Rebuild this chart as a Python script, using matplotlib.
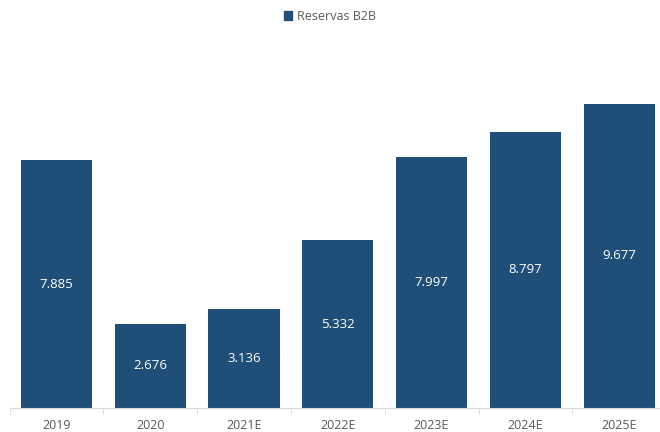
import numpy as np
import matplotlib
matplotlib.use("Agg")
import matplotlib.pyplot as plt
from matplotlib.patches import Patch

years = ["2019", "2020", "2021E", "2022E", "2023E", "2024E", "2025E"]
reservas_b2b = [7.885, 2.676, 3.136, 5.332, 7.997, 8.797, 9.677]

bar_color = "#1F4E79"
text_color = "#595959"

plt.rcParams["font.family"] = ["Open Sans", "DejaVu Sans"]

fig = plt.figure(figsize=(6.6, 4.32), dpi=100)
# axes reaches the right border, the last slot is cut a little
ax = fig.add_axes([9.5 / 660, 24 / 432, (660 - 9.5) / 660, 377 / 432])

x = np.arange(len(years))
bars = ax.bar(x, reservas_b2b, width=0.76, color=bar_color)

for xi, v in zip(x, reservas_b2b):
    ax.text(xi, v / 2, f"{v:.3f}", ha="center", va="center",
            color="white", fontsize=9.5)

ax.set_xticks(x)
ax.set_xticklabels(years, color=text_color, fontsize=9)
ax.tick_params(axis="x", which="major", length=0, pad=8)
ax.set_xticks(np.arange(-0.5, len(years), 1.0), minor=True)
ax.tick_params(axis="x", which="minor", length=4, color="#D9D9D9", direction="out")
ax.set_yticks([])
# limits after the ticks, otherwise set_xticks widens them again
ax.set_xlim(-0.5, -0.5 + (660 - 9.5) / 93.8)
ax.set_ylim(0, 12)

for side in ["top", "left", "right"]:
    ax.spines[side].set_visible(False)
ax.spines["bottom"].set_color("#D9D9D9")

fig.legend(handles=[Patch(color=bar_color, label="Reservas B2B")],
           loc="center", bbox_to_anchor=(0.5, 1 - 16 / 432), frameon=False,
           fontsize=9, labelcolor=text_color, handlelength=0.7, handleheight=0.7,
           handletextpad=0.4)

fig.savefig("out.png", dpi=100)
